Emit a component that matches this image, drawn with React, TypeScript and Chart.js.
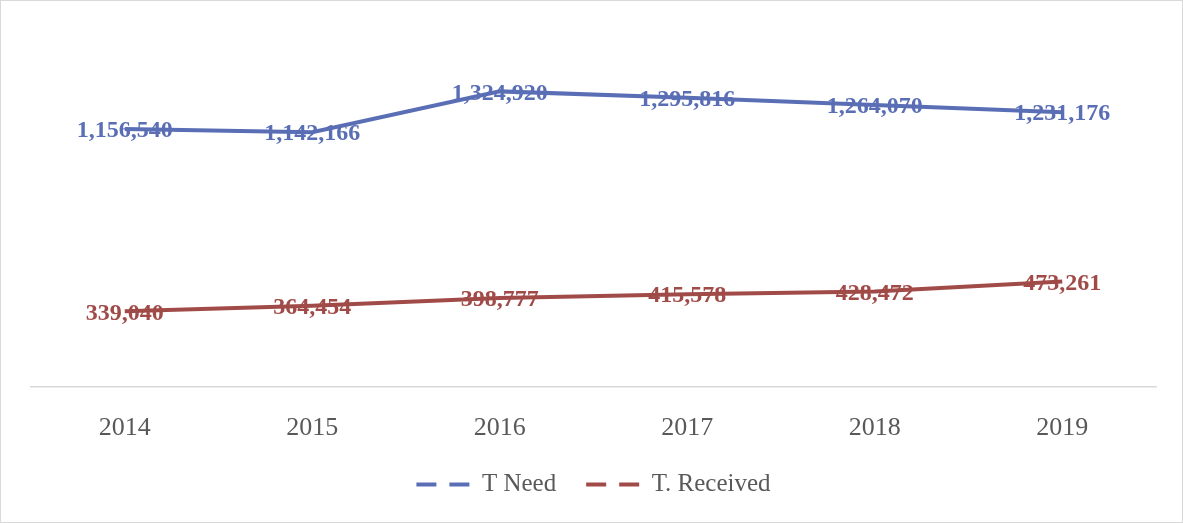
import React, { useEffect, useRef } from "react";
import { Chart, registerables } from "chart.js";

Chart.register(...registerables);

const years = ["2014", "2015", "2016", "2017", "2018", "2019"];
const tNeed = [1156540, 1142166, 1324920, 1295816, 1264070, 1231176];
const tReceived = [339040, 364454, 398777, 415578, 428472, 473261];
const seriesNames = ["T Need", "T. Received"];
const blue = "#5A6EB5";
const red = "#A04B48";

const labelPlugin = {
  id: "valueLabels",
  afterDatasetsDraw(chart: any) {
    const ctx = chart.ctx;
    ctx.save();
    ctx.font = "bold 24px 'Liberation Serif', serif";
    ctx.textAlign = "center";
    ctx.textBaseline = "middle";
    chart.data.datasets.forEach((ds: any, di: number) => {
      const meta = chart.getDatasetMeta(di);
      ctx.fillStyle = ds.borderColor;
      meta.data.forEach((pt: any, i: number) => {
        const v = ds.data[i] as number;
        ctx.fillText(v.toLocaleString("en-US"), pt.x, pt.y + 2);
      });
    });
    ctx.restore();
  },
};

export default function App() {
  const ref = useRef<HTMLCanvasElement | null>(null);
  useEffect(() => {
    if (!ref.current) return;
    const chart = new Chart(ref.current, {
      type: "line",
      data: {
        labels: years,
        datasets: [
          {
            label: seriesNames[0],
            data: tNeed,
            borderColor: blue,
            backgroundColor: blue,
            borderWidth: 4,
            pointRadius: 0,
            tension: 0,
          },
          {
            label: seriesNames[1],
            data: tReceived,
            borderColor: red,
            backgroundColor: red,
            borderWidth: 4,
            pointRadius: 0,
            tension: 0,
          },
        ],
      },
      options: {
        animation: false,
        responsive: false,
        maintainAspectRatio: false,
        layout: { padding: { left: 30, right: 26, top: 29, bottom: 15 } },
        scales: {
          x: {
            offset: true,
            grid: { display: false, drawTicks: false },
            border: { display: true, color: "#d9d9d9", width: 1.5 },
            ticks: {
              color: "#595959",
              font: { family: "'Liberation Serif', serif", size: 26 },
              padding: 26,
            },
            afterFit: (scale: any) => {
              scale.height = 55;
            },
          },
          y: {
            display: false,
            min: 0,
            max: 1600000,
          },
        },
        plugins: {
          tooltip: { enabled: false },
          legend: {
            position: "bottom",
            labels: {
              color: "#595959",
              font: { family: "'Liberation Serif', serif", size: 25 },
              usePointStyle: true,
              pointStyle: "line",
              pointStyleWidth: 53,
              padding: 30,
              generateLabels: (c: any) => {
                const items = (Chart.defaults.plugins.legend.labels as any).generateLabels(c);
                return items.map((it: any) => ({
                  ...it,
                  pointStyle: "line",
                  lineDash: [20, 13],
                  lineWidth: 4,
                  lineCap: "butt",
                }));
              },
            },
          },
        },
      },
      plugins: [labelPlugin],
    });
    return () => chart.destroy();
  }, []);
  return (
    <div
      style={{
        position: "fixed",
        left: 0,
        top: 0,
        width: 1183,
        height: 523,
        border: "1px solid #d9d9d9",
        boxSizing: "border-box",
        background: "#fff",
      }}
    >
      <canvas ref={ref} width={1181} height={521} style={{ display: "block" }} />
    </div>
  );
}
